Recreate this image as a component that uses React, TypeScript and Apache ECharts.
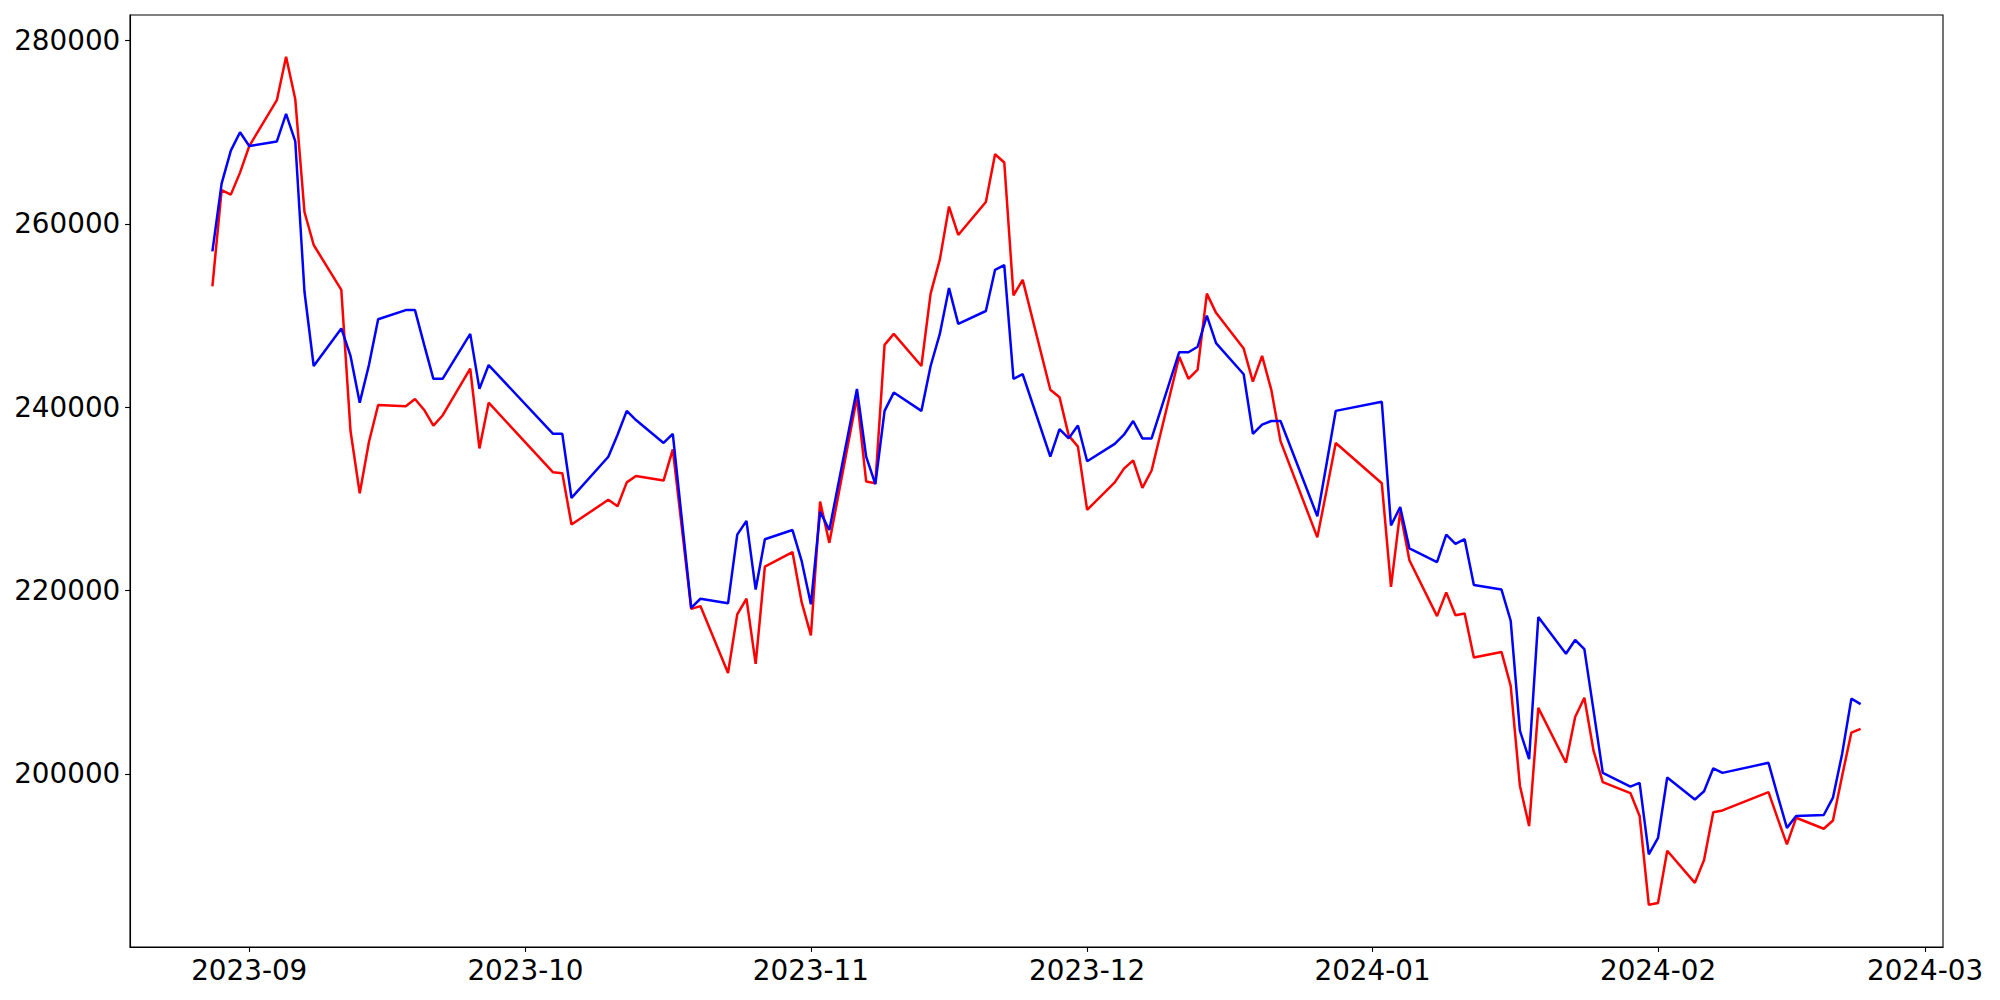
import React, { useEffect, useRef } from 'react';
import * as echarts from 'echarts';

const dates: string[] = [
  '2023-08-28', '2023-08-29', '2023-08-30', '2023-08-31',
  '2023-09-01', '2023-09-04', '2023-09-05', '2023-09-06', '2023-09-07', '2023-09-08',
  '2023-09-11', '2023-09-12', '2023-09-13', '2023-09-14', '2023-09-15',
  '2023-09-18', '2023-09-19', '2023-09-20', '2023-09-21', '2023-09-22',
  '2023-09-25', '2023-09-26', '2023-09-27',
  '2023-10-04', '2023-10-05', '2023-10-06',
  '2023-10-10', '2023-10-11', '2023-10-12', '2023-10-13',
  '2023-10-16', '2023-10-17', '2023-10-18', '2023-10-19', '2023-10-20',
  '2023-10-23', '2023-10-24', '2023-10-25', '2023-10-26', '2023-10-27',
  '2023-10-30', '2023-10-31',
  '2023-11-01', '2023-11-02', '2023-11-03',
  '2023-11-06', '2023-11-07', '2023-11-08', '2023-11-09', '2023-11-10',
  '2023-11-13', '2023-11-14', '2023-11-15', '2023-11-16', '2023-11-17',
  '2023-11-20', '2023-11-21', '2023-11-22', '2023-11-23', '2023-11-24',
  '2023-11-27', '2023-11-28', '2023-11-29', '2023-11-30',
  '2023-12-01', '2023-12-04', '2023-12-05', '2023-12-06', '2023-12-07', '2023-12-08',
  '2023-12-11', '2023-12-12', '2023-12-13', '2023-12-14', '2023-12-15',
  '2023-12-18', '2023-12-19', '2023-12-20', '2023-12-21', '2023-12-22',
  '2023-12-26', '2023-12-27', '2023-12-28',
  '2024-01-02', '2024-01-03', '2024-01-04', '2024-01-05',
  '2024-01-08', '2024-01-09', '2024-01-10', '2024-01-11', '2024-01-12',
  '2024-01-15', '2024-01-16', '2024-01-17', '2024-01-18', '2024-01-19',
  '2024-01-22', '2024-01-23', '2024-01-24', '2024-01-25', '2024-01-26',
  '2024-01-29', '2024-01-30', '2024-01-31',
  '2024-02-01', '2024-02-02',
  '2024-02-05', '2024-02-06', '2024-02-07', '2024-02-08',
  '2024-02-13', '2024-02-14', '2024-02-15', '2024-02-16',
  '2024-02-19', '2024-02-20', '2024-02-21', '2024-02-22', '2024-02-23',
];

const redValues: number[] = [
  253200, 263700, 263200, 265600,
  268500, 273500, 278250, 273600, 261300, 257700,
  252800, 237400, 230600, 236200, 240250,
  240100, 240900, 239700, 238000, 239100,
  244200, 235500, 240500,
  232900, 232800, 227200,
  229900, 229200, 231800, 232500,
  232000, 235400, 226700, 218000, 218300,
  211000, 217400, 219100, 212000, 222600,
  224200, 218700,
  215100, 229700, 225200,
  241100, 231900, 231700, 246800, 248000,
  244500, 252400, 256100, 261900, 258800,
  262400, 267600, 266700, 252200, 253900,
  241900, 241100, 236900, 235700,
  228800, 231800, 233300, 234200, 231200, 233100,
  245500, 243100, 244100, 252400, 250300,
  246400, 242800, 245600, 241900, 236300,
  225800, 230900, 236100,
  231700, 220400, 228600, 223300,
  217200, 219800, 217300, 217500, 212700,
  213300, 209600, 198700, 194300, 207200,
  201200, 206200, 208300, 202500, 199100,
  197900, 195400, 185700,
  185900, 191600,
  188100, 190600, 195800, 196000,
  198000, 195100, 192300, 195200,
  194000, 194900, 199800, 204500, 204900,
];

const blueValues: number[] = [
  257000, 264400, 268000, 270000,
  268500, 269000, 272000, 269000, 252600, 244500,
  248600, 245600, 240500, 244600, 249600,
  250600, 250600, 246800, 243100, 243100,
  248000, 242000, 244600,
  237100, 237100, 230100,
  234600, 237000, 239600, 238600,
  236100, 237100, 227600, 218100, 219100,
  218600, 226100, 227600, 220100, 225600,
  226600, 223200,
  218500, 228600, 226600,
  242000, 234600, 231600, 239600, 241600,
  239600, 244500, 248000, 253000, 249100,
  250500, 255000, 255500, 243100, 243600,
  234600, 237600, 236600, 238000,
  234100, 236000, 237000, 238500, 236600, 236600,
  246000, 246000, 246600, 250000, 247000,
  243600, 237100, 238100, 238500, 238500,
  228100, 233800, 239600,
  240600, 227100, 229100, 224600,
  223100, 226100, 225100, 225600, 220600,
  220100, 216700, 204700, 201600, 217100,
  213100, 214600, 213600, 206900, 200100,
  198600, 199000, 191200,
  193000, 199600,
  197200, 198100, 200600, 200100,
  201200, 197600, 194100, 195400,
  195500, 197400, 202200, 208200, 207600,
];

const yTicks: number[] = [200000, 220000, 240000, 260000, 280000];
const xTickLabels: string[] = ['2023-09', '2023-10', '2023-11', '2023-12', '2024-01', '2024-02', '2024-03'];

const toTs = (s: string): number => {
  const [y, m, d] = s.split('-').map(Number);
  return Date.UTC(y, m - 1, d || 1);
};

const fmtMonth = (v: number): string => {
  const d = new Date(v);
  return `${d.getUTCFullYear()}-${String(d.getUTCMonth() + 1).padStart(2, '0')}`;
};

export default function App() {
  const ref = useRef<HTMLDivElement>(null);

  useEffect(() => {
    if (!ref.current) return;
    const chart = echarts.init(ref.current, null, { renderer: 'svg' });
    const xs = dates.map(toTs);
    const span = xs[xs.length - 1] - xs[0];
    const xMin = xs[0] - span * 0.05;
    const xMax = xs[xs.length - 1] + span * 0.05;
    const xTicks = xTickLabels.map((s) => toTs(s + '-01'));
    const font = 'DejaVu Sans';

    chart.setOption({
      animation: false,
      backgroundColor: '#ffffff',
      grid: {
        left: 130,
        right: 57,
        top: 15,
        bottom: 53,
        show: true,
        borderColor: '#000000',
        borderWidth: 1.1,
        backgroundColor: 'transparent',
        containLabel: false,
      },
      xAxis: {
        type: 'value',
        min: xMin,
        max: xMax,
        axisLine: { show: true, lineStyle: { color: '#000', width: 1.1 } },
        axisTick: { show: true, length: 4.9, lineStyle: { color: '#000', width: 1.1 }, customValues: xTicks },
        axisLabel: {
          show: true,
          customValues: xTicks,
          formatter: (v: number) => fmtMonth(v),
          color: '#000',
          fontFamily: font,
          fontSize: 27.8,
          margin: 9.7,
        },
        splitLine: { show: false },
      },
      yAxis: {
        type: 'value',
        min: 181100,
        max: 282800,
        axisLine: { show: true, lineStyle: { color: '#000', width: 1.1 } },
        axisTick: { show: true, length: 4.9, lineStyle: { color: '#000', width: 1.1 }, customValues: yTicks },
        axisLabel: {
          show: true,
          customValues: yTicks,
          formatter: (v: number) => String(v),
          color: '#000',
          fontFamily: font,
          fontSize: 27.8,
          margin: 9.7,
        },
        splitLine: { show: false },
      },
      series: [
        {
          name: 'red',
          type: 'line',
          data: xs.map((x, i) => [x, redValues[i]]),
          showSymbol: false,
          symbol: 'none',
          lineStyle: { color: '#ff0000', width: 2.5 },
          itemStyle: { color: '#ff0000' },
          silent: true,
        },
        {
          name: 'blue',
          type: 'line',
          data: xs.map((x, i) => [x, blueValues[i]]),
          showSymbol: false,
          symbol: 'none',
          lineStyle: { color: '#0000ff', width: 2.5 },
          itemStyle: { color: '#0000ff' },
          silent: true,
        },
      ],
    });

    return () => {
      chart.dispose();
    };
  }, []);

  return (
    <div
      ref={ref}
      style={{ position: 'fixed', left: 0, top: 0, width: 2000, height: 1000, background: '#ffffff' }}
    />
  );
}
